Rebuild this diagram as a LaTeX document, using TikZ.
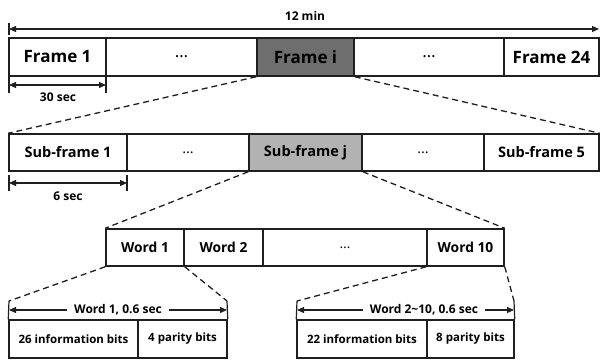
\documentclass[tikz,border=0pt]{standalone}
\usepackage{fontspec}
\setmainfont{Open Sans}
\usetikzlibrary{arrows.meta}
\newcommand{\dotsbox}{\mdseries…}
\begin{document}
\begin{tikzpicture}[x=1pt,y=-1pt,
  box/.style={draw=black!88,line width=1.5pt,inner sep=0pt,font=\bfseries},
  rowA/.style={box,minimum height=38,font=\bfseries\fontsize{17}{20}\selectfont},
  rowB/.style={box,minimum height=37,font=\bfseries\fontsize{14.5}{17}\selectfont},
  rowC/.style={box,minimum height=37,font=\bfseries\fontsize{13.8}{16}\selectfont},
  rowD/.style={box,minimum height=38,font=\bfseries\fontsize{11.5}{14}\selectfont},
  zoomline/.style={draw=black!88,line width=1.3pt,dash pattern=on 6pt off 4pt},
  span/.style={draw=black!88,line width=1.2pt,{Triangle[length=7pt,width=6pt]}-{Triangle[length=7pt,width=6pt]}},
  tick/.style={draw=black!88,line width=1.2pt},
  lbl/.style={font=\bfseries\fontsize{12}{14}\selectfont,inner sep=1pt}]
\useasboundingbox[fill=white] (0,0) rectangle (601,359);

% ---- frames of the 12 min message ----
\node[rowA,minimum width=97] (f1) at (57.5,57) {Frame 1};
\node[rowA,minimum width=151] (fd1) at (181.5,57) {\dotsbox};
\node[rowA,minimum width=97,fill=black!57] (fi) at (305.5,57) {Frame i};
\node[rowA,minimum width=150] (fd2) at (429,57) {\dotsbox};
\node[rowA,minimum width=95] (f24) at (551.5,57) {Frame 24};

% total length
\coordinate (tA) at (9,23);
\coordinate (tB) at (9,35);
\coordinate (mL) at (9,29);
\coordinate (mR) at (599,29);
\draw[tick] (tA) -- (tB);
\draw[span] (mL) -- (mR);
\node[lbl] (min) at (305,16) {12 min};

% frame length
\coordinate (fa) at (9,77);
\coordinate (fb) at (9,93);
\coordinate (fc) at (106,77);
\coordinate (fdd) at (106,93);
\coordinate (fL) at (9,85);
\coordinate (fR) at (106,85);
\draw[tick] (fa) -- (fb);
\draw[tick] (fc) -- (fdd);
\draw[span] (fL) -- (fR);
\node[lbl] (sec30) at (58,97) {30 sec};

% ---- sub-frames of frame i ----
\node[rowB,minimum width=118] (s1) at (68,152.5) {Sub-frame 1};
\node[rowB,minimum width=122] (sd1) at (188,152.5) {\dotsbox};
\node[rowB,minimum width=113,fill=black!30] (sj) at (305.5,152.5) {Sub-frame j};
\node[rowB,minimum width=122] (sd2) at (423,152.5) {\dotsbox};
\node[rowB,minimum width=115] (s5) at (541.5,152.5) {Sub-frame 5};

\draw[zoomline] (fi.south west) -- (s1.north west);
\draw[zoomline] (fi.south east) -- (s5.north east);

% sub-frame length
\coordinate (sa) at (9,175);
\coordinate (sb) at (9,191);
\coordinate (sc) at (127,175);
\coordinate (sdd) at (127,191);
\coordinate (sL) at (9,183);
\coordinate (sR) at (127,183);
\draw[tick] (sa) -- (sb);
\draw[tick] (sc) -- (sdd);
\draw[span] (sL) -- (sR);
\node[lbl] (sec6) at (68,196) {6 sec};

% ---- words of sub-frame j ----
\node[rowC,minimum width=78] (w1) at (145,247.5) {Word 1};
\node[rowC,minimum width=79] (w2) at (223.5,247.5) {Word 2};
\node[rowC,minimum width=164] (wd) at (345,247.5) {\dotsbox};
\node[rowC,minimum width=77] (w10) at (465.5,247.5) {Word 10};

\draw[zoomline] (sj.south west) -- (w1.north west);
\draw[zoomline] (sj.south east) -- (w10.north east);

% ---- bits of word 1 ----
\node[rowD,minimum width=129] (a1) at (73.5,339) {26 information bits};
\node[rowD,minimum width=89] (a2) at (182.5,339) {4 parity bits};
\coordinate (aL) at (9,301);
\coordinate (aR) at (227,301);
\draw[zoomline] (w1.south west) -- (aL);
\draw[zoomline] (w1.south east) -- (aR);
\draw[tick] (aL) -- (a1.north west);
\draw[tick] (aR) -- (a2.north east);
\coordinate (aLa) at (9,310);
\coordinate (aRa) at (227,310);
\draw[span] (aLa) -- (aRa);
\node[lbl,fill=white,inner xsep=7pt] (wa) at (118,310) {Word 1, 0.6 sec};

% ---- bits of words 2 to 10 ----
\node[rowD,minimum width=130] (b1) at (362,339) {22 information bits};
\node[rowD,minimum width=87] (b2) at (470.5,339) {8 parity bits};
\coordinate (bL) at (297,301);
\coordinate (bR) at (514,301);
\draw[zoomline] (w10.south west) -- (bL);
\draw[zoomline] (w10.south east) -- (bR);
\draw[tick] (bL) -- (b1.north west);
\draw[tick] (bR) -- (b2.north east);
\coordinate (bLa) at (297,310);
\coordinate (bRa) at (514,310);
\draw[span] (bLa) -- (bRa);
\node[lbl,fill=white,inner xsep=7pt] (wb) at (424,310) {Word 2\textasciitilde 10, 0.6 sec};
\end{tikzpicture}
\end{document}
